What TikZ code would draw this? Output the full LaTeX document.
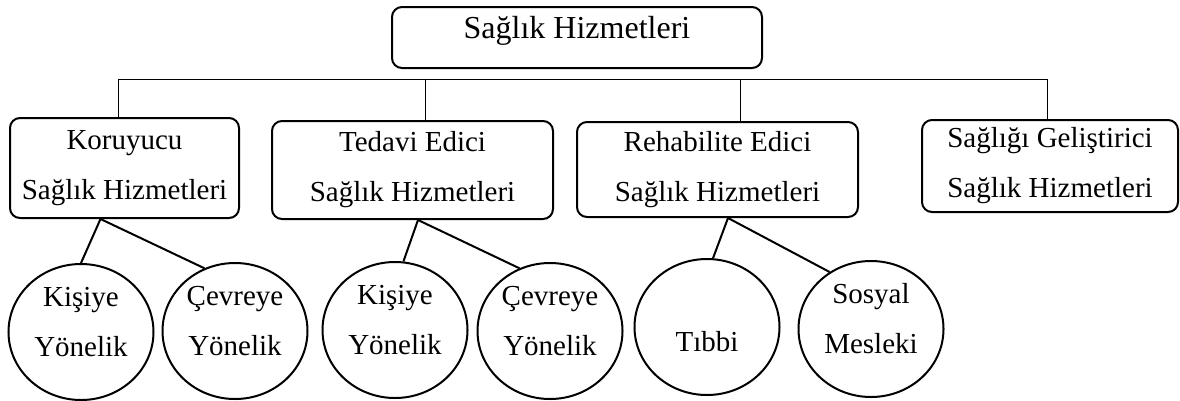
\documentclass[tikz,border=0pt]{standalone}
\usepackage{fontspec}
\setmainfont{Liberation Serif}
\usetikzlibrary{shapes.geometric}

\begin{document}
\begin{tikzpicture}[
    x=1pt, y=-1pt,
    every node/.style={font=\fontsize{29}{50}\selectfont}
  ]

  % styles
  \tikzstyle{topbox}=[rectangle, draw, rounded corners=10pt, line width=2pt, inner sep=0pt, minimum width=370pt, minimum height=61pt, font=\fontsize{32}{40}\selectfont, text depth=21pt]
  \tikzstyle{kind}=[rectangle, draw, rounded corners=10pt, line width=2pt, inner sep=0pt, align=center]
  \tikzstyle{sub}=[ellipse, draw, line width=2pt, inner sep=0pt, minimum width=145pt, minimum height=136pt, align=center, text depth=21pt]
  \tikzstyle{bus}=[line width=1pt]
  \tikzstyle{link}=[line width=2pt]

  \useasboundingbox (0,0) rectangle (1180,400);

  % top box
  \node[topbox] (saglik) at (577,37.5) {Sağlık Hizmetleri};

  % service kinds
  \node[kind, minimum width=229pt, minimum height=100pt] (koru) at (124.5,168) {Koruyucu\\Sağlık Hizmetleri};
  \node[kind, minimum width=281pt, minimum height=98pt] (teda) at (412.5,170) {Tedavi Edici\\Sağlık Hizmetleri};
  \node[kind, minimum width=281pt, minimum height=95pt] (reha) at (717.5,169.5) {Rehabilite Edici\\Sağlık Hizmetleri};
  \node[kind, minimum width=256pt, minimum height=92pt] (gel) at (1050,166) {Sağlığı Geliştirici\\Sağlık Hizmetleri};

  % sub kinds
  \node[sub] (kisi1) at (81,332) {Kişiye\\Yönelik};
  \node[sub] (cevre1) at (235,331) {Çevreye\\Yönelik};
  \node[sub] (kisi2) at (395,330) {Kişiye\\Yönelik};
  \node[sub] (cevre2) at (550,331) {Çevreye\\Yönelik};
  \node[sub] (tibbi) at (707,327) {\vphantom{K}\\Tıbbi};
  \node[sub] (sosyal) at (871,329) {Sosyal\\Mesleki};

  % bus line under the top box
  \coordinate (busL) at (118,79);
  \coordinate (bus2) at (425,79);
  \coordinate (bus3) at (740,79);
  \coordinate (busR) at (1047,79);
  \draw[bus] (busL) -- (busR);
  \draw[bus] (busL) -- (busL |- koru.north);
  \draw[bus] (bus2) -- (bus2 |- teda.north);
  \draw[bus] (bus3) -- (bus3 |- reha.north);
  \draw[bus] (busR) -- (busR |- gel.north);

  % links to the sub kinds
  \coordinate (koru-s) at ([xshift=-24pt]koru.south);
  \coordinate (teda-s) at ([xshift=5.5pt]teda.south);
  \coordinate (reha-s) at ([xshift=10.5pt]reha.south);
  \draw[link] (koru-s) -- (kisi1.north);
  \draw[link] (koru-s) -- (cevre1.116);
  \draw[link] (teda-s) -- (kisi2.83);
  \draw[link] (teda-s) -- (cevre2.116);
  \draw[link] (reha-s) -- (tibbi.85);
  \draw[link] (reha-s) -- (sosyal.126);

\end{tikzpicture}
\end{document}
